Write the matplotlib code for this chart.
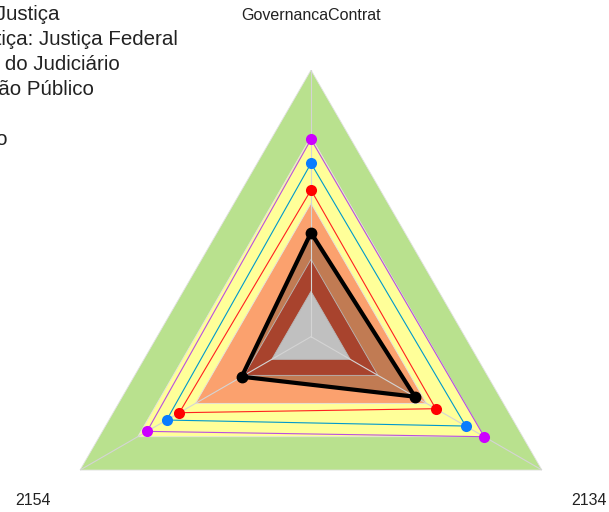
"""Radar chart: governance indicator vs. two questions, with reference bands."""
import numpy as np
import matplotlib

matplotlib.use("Agg")
import matplotlib.pyplot as plt  # noqa: E402

plt.rcParams["font.family"] = ["Liberation Sans", "DejaVu Sans"]

# axes of the radar (clockwise from top)
categories = ["GovernancaContrat", "2134", "2154"]

# background bands (outer limit of each band, in %)
band_levels = [100, 75, 50, 29, 17]
band_colors = ["#B9E18E", "#FFFF99", "#FBA16E", "#A8432D", "#C0C0C0"]

# series values, same order as categories (%)
black_vals = [39, 45, 30]
red_vals = [55, 54, 57]
blue_vals = [65, 67, 62.5]
magenta_vals = [74, 75, 71]

legend_labels = [
    "Na Justiça",
    "Justiça: Justiça Federal",
    "Alto do Judiciário",
    "Órgão Público",
    "",
    "Todo",
]

W, H, DPI = 609, 512, 100
fig = plt.figure(figsize=(W / DPI, H / DPI), dpi=DPI)

# polar axes centred on the triangle, radius 266.7 px
cx, cy, R = 311, 512 - 336.7, 266.7
ax = fig.add_axes([(cx - R) / W, (cy - R) / H, 2 * R / W, 2 * R / H],
                  projection="polar")
ax.set_theta_offset(np.pi / 2)
ax.set_theta_direction(-1)
ax.set_ylim(0, 100)
ax.set_xticks([])
ax.set_yticks([])
ax.grid(False)
ax.spines["polar"].set_visible(False)
ax.patch.set_alpha(0)

theta = np.arange(len(categories)) * 2 * np.pi / len(categories)
th_closed = np.append(theta, theta[0])


def closed(vals):
    return np.append(vals, vals[0])


# outer bands first
for lvl, col in zip(band_levels[:3], band_colors[:3]):
    ax.fill(th_closed, closed([lvl] * 3), color=col, ec="#E2E2E2", lw=0.6, zorder=1)

# area of the main series
ax.fill(th_closed, closed(black_vals), color="#C17B53", lw=0, zorder=2)

# inner bands on top of it
for lvl, col in zip(band_levels[3:], band_colors[3:]):
    ax.fill(th_closed, closed([lvl] * 3), color=col, ec="#B8B8B8", lw=0.6, zorder=3)

# spokes
for t in theta:
    ax.plot([t, t], [0, 100], color="#D4D4D4", lw=0.8, zorder=4)

series = [
    (magenta_vals, "#B84FE0", "#CC00FF"),
    (blue_vals, "#0099CC", "#0A7CFF"),
    (red_vals, "#FF2020", "#FF0000"),
]
for vals, lc, mc in series:
    ax.plot(th_closed, closed(vals), color=lc, lw=0.8, zorder=5)
    ax.plot(theta, vals, "o", color=mc, ms=8, mec="none", zorder=6)

ax.plot(th_closed, closed(black_vals), color="black", lw=3, zorder=7)
ax.plot(theta, black_vals, "o", color="black", ms=7.5, zorder=8)

# axis labels; bottom ones pushed down a little
label_dy = [0, -3, -3]
for t, dy, lab in zip(theta, label_dy, categories):
    ax.annotate(lab, (t, 120.5), xytext=(0, dy), textcoords="offset pixels",
                ha="center", va="center", fontsize=11.5, color="#222222",
                annotation_clip=False)

# legend text, cut at the left edge like in the source
for i, lab in enumerate(legend_labels):
    fig.text(-36.5 / W, 1 - (20 + 25 * i) / H, lab, ha="left", va="baseline",
             fontsize=14.8, color="#222222")

fig.savefig("out.png", dpi=DPI)
plt.close(fig)
